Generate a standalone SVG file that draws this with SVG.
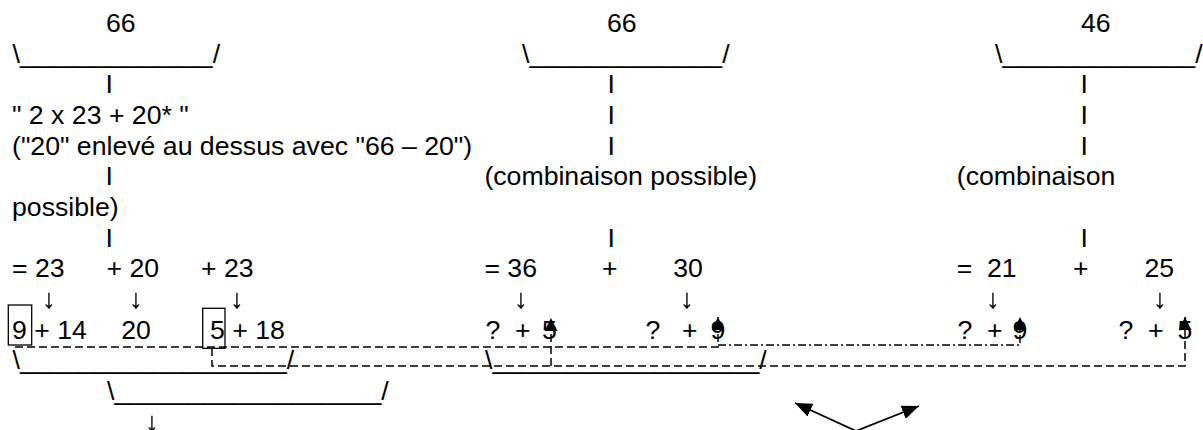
<svg xmlns="http://www.w3.org/2000/svg" width="1203" height="430" viewBox="0 0 1203 430">
<style>
text{font-family:"Liberation Sans",Arial,sans-serif;font-size:26.67px;fill:#000}
.c{text-anchor:middle}
.ar{text-anchor:middle;stroke:#000;stroke-width:0.3;filter:url(#gray)}
.dash{fill:none;stroke:#000;stroke-width:1.5;stroke-dasharray:8 4}
.dd{fill:none;stroke:#000;stroke-width:1.5;stroke-dasharray:8 3 2 3}
.box{fill:none;stroke:#000;stroke-width:1.3}
.arr{fill:none;stroke:#000;stroke-width:1.8}
</style>
<defs>
<filter id="gray" x="-50%" y="-50%" width="200%" height="200%"><feColorMatrix type="saturate" values="0"/></filter>
<marker id="up" markerUnits="userSpaceOnUse" markerWidth="13" markerHeight="13" viewBox="0 0 13 13" refX="13" refY="6.5" orient="auto"><path d="M0,0 L13,6.5 L0,13 Z" fill="#000"/></marker>
<marker id="big" markerUnits="userSpaceOnUse" markerWidth="17" markerHeight="14" viewBox="0 0 17 14" refX="17" refY="7" orient="auto"><path d="M0,0 L17,7 L0,14 Z" fill="#000"/></marker>
</defs>
<rect width="1203" height="430" fill="#fff"/>

<g id="left-column">
<text x="106" y="32">66</text>
<text x="12.5" y="62.6">\_____________/</text>
<text x="105.5" y="93.3">I</text>
<text x="12" y="124">" 2 x 23 + 20* "</text>
<text x="12" y="154.6">("20" enlevé au dessus avec "66 – 20")</text>
<text x="105.5" y="185.3">I</text>
<text x="12" y="216">possible)</text>
<text x="105.5" y="246.6">I</text>
</g>

<g id="middle-column">
<text x="607" y="32">66</text>
<text x="522" y="62.6">\_____________/</text>
<text x="607.5" y="93.3">I</text>
<text x="607.5" y="124">I</text>
<text x="607.5" y="154.6">I</text>
<text x="484.4" y="185.3">(combinaison possible)</text>
<text x="607.5" y="246.6">I</text>
</g>

<g id="right-column">
<text x="1081" y="32">46</text>
<text x="995" y="62.6">\_____________/</text>
<text x="1080.5" y="93.3">I</text>
<text x="1080.5" y="124">I</text>
<text x="1080.5" y="154.6">I</text>
<text x="956.8" y="185.3">(combinaison</text>
<text x="1080.5" y="246.6">I</text>
</g>

<g id="sum-left">
<text x="12" y="277.3">= 23</text>
<text x="106.5" y="277.3">+ 20</text>
<text x="201" y="277.3">+ 23</text>
<text class="ar" x="49" y="308">↓</text>
<text class="ar" x="136" y="308">↓</text>
<text class="ar" x="237" y="308">↓</text>
<text x="12" y="338.6">9 + 14</text>
<text x="121.3" y="338.6">20</text>
<text x="210" y="338.6">5 + 18</text>
<rect class="box" x="8.3" y="305" width="23.4" height="40"/>
<rect class="box" x="202.7" y="308.3" width="22.3" height="40"/>
</g>

<g id="sum-middle">
<text x="484.4" y="277.3">= 36</text>
<text x="602" y="277.3">+</text>
<text x="673.3" y="277.3">30</text>
<text class="ar" x="521" y="308">↓</text>
<text class="ar" x="687" y="308">↓</text>
<text x="485.4" y="338.6">?</text>
<text x="515" y="338.6">+</text>
<text x="542" y="338.6">5</text>
<text x="645.5" y="338.6">?</text>
<text x="682" y="338.6">+</text>
<text x="710.6" y="338.6">9</text>
</g>

<g id="sum-right">
<text x="956.8" y="277.3">=</text>
<text x="987" y="277.3">21</text>
<text x="1073" y="277.3">+</text>
<text x="1144.5" y="277.3">25</text>
<text class="ar" x="993" y="308">↓</text>
<text class="ar" x="1160" y="308">↓</text>
<text x="957.5" y="338.6">?</text>
<text x="987" y="338.6">+</text>
<text x="1012.6" y="338.6">9</text>
<text x="1118.5" y="338.6">?</text>
<text x="1148" y="338.6">+</text>
<text x="1177.6" y="338.6">5</text>
</g>

<g id="brackets-bottom">
<text x="12.5" y="369.3">\__________________/</text>
<text x="107" y="400">\__________________/</text>
<text x="485" y="369.3">\__________________/</text>
<text class="ar" x="152" y="430.6">↓</text>
</g>

<g id="connectors">
<path class="dash" d="M15,347 H718 V317" marker-end="url(#up)"/>
<path class="dd" d="M718,345 H1020 V317" marker-end="url(#up)"/>
<path class="dash" d="M212,348 V366 H1185 V317" marker-end="url(#up)"/>
<path class="dash" d="M551,366 V318" marker-end="url(#up)"/>
<path class="arr" d="M856,431 L795,403" marker-end="url(#big)"/>
<path class="arr" d="M856,431 L919,406" marker-end="url(#big)"/>
</g>
</svg>
